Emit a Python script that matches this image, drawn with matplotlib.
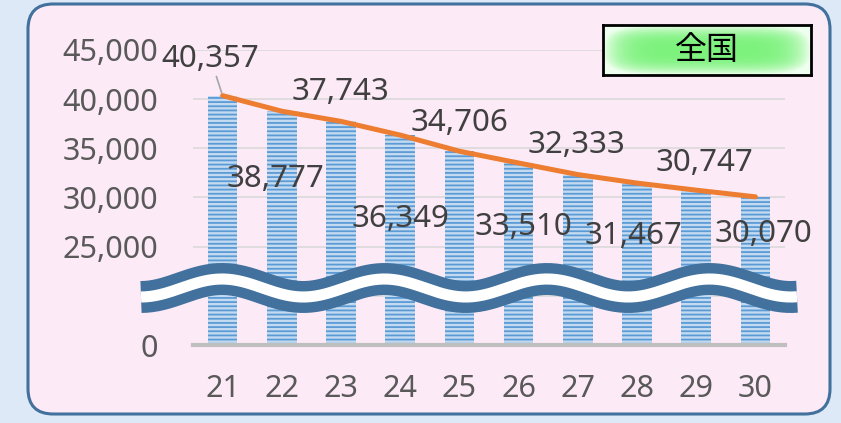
import numpy as np
import matplotlib
matplotlib.use("Agg")
import matplotlib.pyplot as plt
from matplotlib.patches import FancyBboxPatch
from matplotlib.lines import Line2D

plt.rcParams["font.family"] = ["Noto Sans", "Noto Sans CJK JP", "DejaVu Sans"]
plt.rcParams["hatch.linewidth"] = 1.3

# data
years = [21, 22, 23, 24, 25, 26, 27, 28, 29, 30]
values = [40357, 38777, 37743, 36349, 34706, 33510, 32333, 31467, 30747, 30070]
legend_label = "全国"
ytick_values = [0, 12500, 25000, 30000, 35000, 40000, 45000]
ytick_labels = ["0", "", "25,000", "30,000", "35,000", "40,000", "45,000"]

# label offsets in pixels (dx, dy of digit centre from the point)
label_offsets = [(-12, 40), (-6, -65), (-1, 32), (0, -81), (0, 31),
                 (5, -61), (-1, 33), (-4, -50), (8, 30), (8, -34)]

W, H = 841, 423
fig = plt.figure(figsize=(W / 100, H / 100), dpi=100)
fig.patch.set_facecolor("#dde9f6")

# pink rounded panel
panel = FancyBboxPatch((28 / W, (H - 414) / H), (830 - 28) / W, (414 - 4) / H,
                       boxstyle="round,pad=0,rounding_size=0.03",
                       transform=fig.transFigure, facecolor="#fdeaf7",
                       edgecolor="#41719c", linewidth=2.2, mutation_aspect=W / H,
                       zorder=-5)
fig.patches.append(panel)

ax = fig.add_axes([193 / W, (H - 345) / H, 592 / W, 295 / H])
ax.set_facecolor("none")


def fwd(v):
    v = np.asarray(v, dtype=float)
    return np.where(v >= 25000, v - 15000, v * 0.4)


def inv(t):
    t = np.asarray(t, dtype=float)
    return np.where(t >= 10000, t + 15000, t / 0.4)


ax.set_yscale("function", functions=(fwd, inv))
ax.set_ylim(0, 45000)
ax.set_xlim(20.5, 30.5)

ax.bar(years, values, width=0.5, color="#c3daf1", edgecolor="#5b9bd5",
       linewidth=0, hatch="----", zorder=2)
ax.plot(years, values, color="#ed7d31", lw=3.6, solid_capstyle="round",
        solid_joinstyle="round", zorder=4)

for i, (x, v) in enumerate(zip(years, values)):
    dx, dy = label_offsets[i]
    kw = {}
    if i == 0:
        kw["arrowprops"] = dict(arrowstyle="-", color="#a6a6a6", lw=1.2,
                                shrinkA=0, shrinkB=2)
    ax.annotate(f"{v:,}", (x, v), xytext=(dx * 0.72, (dy - 11) * 0.72),
                textcoords="offset points", ha="center", va="baseline",
                fontsize=22.5, color="#404040", zorder=6, **kw)

ax.set_xticks(years)
ax.set_xticklabels([str(y) for y in years])
ax.set_yticks(ytick_values)
ax.set_yticklabels(ytick_labels)
ax.yaxis.set_minor_locator(matplotlib.ticker.NullLocator())
ax.tick_params(axis="both", length=0, labelsize=22, labelcolor="#595959")
ax.tick_params(axis="y", pad=25)
ax.tick_params(axis="x", pad=21)
ax.grid(axis="y", color="#d9d9d9", lw=1.2, zorder=0)
ax.set_axisbelow(True)
for s in ["top", "right", "left"]:
    ax.spines[s].set_visible(False)
ax.spines["bottom"].set_color("#bfbfbf")
ax.spines["bottom"].set_linewidth(3)
ax.spines["bottom"].set_zorder(3)

# wavy axis break symbol
xs = np.linspace(141, 797, 400)
ys = 288 - 9 * np.cos(2 * np.pi * (xs - 222) / 162.5)
fx, fy = xs / W, (H - ys) / H
fig.lines.append(Line2D(fx, fy, transform=fig.transFigure, color="#41719c",
                        lw=23, solid_capstyle="butt", zorder=5))
fig.lines.append(Line2D(fx, fy, transform=fig.transFigure, color="white",
                        lw=8, solid_capstyle="butt", zorder=6))

# legend box with green glow
lax = fig.add_axes([603 / W, (H - 75) / H, 208 / W, 50 / H])
gx, gy = np.meshgrid(np.linspace(-1, 1, 300), np.linspace(-1, 1, 80))
t = np.clip(1 - (np.abs(gx) ** 6 + np.abs(gy) ** 3), 0, 1)
c0 = np.array([0.94, 1.0, 0.94])
c1 = np.array([0.49, 0.95, 0.49])
img = c0 + (c1 - c0) * t[..., None]
lax.imshow(img, aspect="auto", extent=(0, 1, 0, 1))
lax.set_xticks([])
lax.set_yticks([])
for s in lax.spines.values():
    s.set_linewidth(2)
    s.set_color("black")
lax.text(0.5, 0.5, legend_label, ha="center", va="center", fontsize=23,
         color="black", family=["Noto Sans CJK JP", "DejaVu Sans"],
         transform=lax.transAxes)

fig.savefig("out.png", dpi=100, facecolor=fig.get_facecolor())
